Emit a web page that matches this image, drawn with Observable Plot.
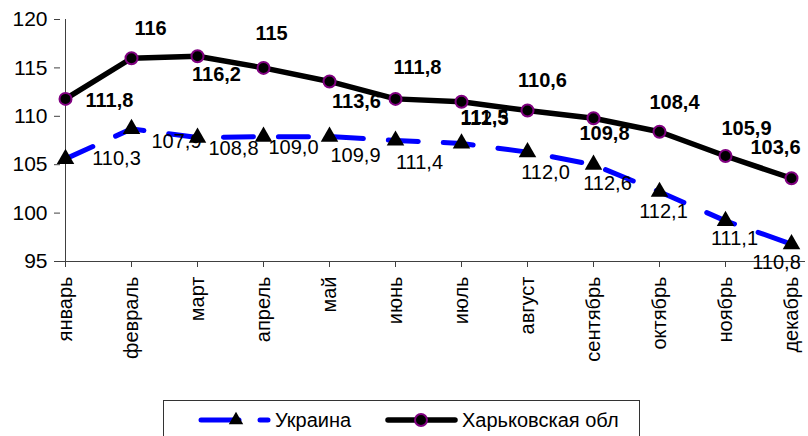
<!DOCTYPE html>
<html>
<head>
<meta charset="utf-8">
<script src="https://cdn.jsdelivr.net/npm/d3@7"></script>
<script src="https://cdn.jsdelivr.net/npm/@observablehq/plot@0.6"></script>
<style>
  html, body { margin: 0; padding: 0; background: white; }
  body { width: 808px; height: 436px; overflow: hidden; position: relative; font-family: "Liberation Sans", Arial, sans-serif; }
  #legend { position: absolute; left: 163px; top: 400px; width: 477px; height: 40px; border: 1px solid #333; box-sizing: border-box; background: white; }
</style>
</head>
<body>
<div id="chart"></div>
<div id="legend"></div>
<script>
const months = ["январь","февраль","март","апрель","май","июнь","июль","август","сентябрь","октябрь","ноябрь","декабрь"];
const ukraine = [105.6, 108.7, 107.8, 107.9, 107.9, 107.5, 107.2, 106.3, 105.0, 102.2, 99.2, 96.8];
const kharkiv = [111.8, 116.0, 116.2, 115.0, 113.6, 111.8, 111.5, 110.6, 109.8, 108.4, 105.9, 103.6];
const ukraineLabels = ["110,3","107,9","108,8","109,0","109,9","111,4","112,3","112,0","112,6","112,1","111,1","110,8"];
const kharkivLabels = ["111,8","116","116,2","115","113,6","111,8","111,5","110,6","109,8","108,4","105,9","103,6"];
const yTicks = [95, 100, 105, 110, 115, 120];
const seriesNames = ["Украина", "Харьковская обл"];

const uRows = months.map((m, i) => ({month: m, value: ukraine[i], label: ukraineLabels[i]}));
const kRows = months.map((m, i) => ({month: m, value: kharkiv[i], label: kharkivLabels[i]}));

// label offsets (layout)
const uDx = [51, 45, 36, 30, 26, 24, 23, 18, 14, 4, 9, -15];
const uDy = [0, 13, 11, 11, 19, 22, -25, 20, 19, 20, 18, 19];
const kDx = [44, 19, 19, 8, 27, 22, 23, 15, 11, 15, 21, -16];
const kDy = [2, -30, 18, -34, 20, -31, 16, -30, 15, -29, -27, -31];

const uLabelMarks = uRows.map((r, i) => Plot.text([r], {x: "month", y: "value", text: "label", dx: uDx[i], dy: uDy[i], fontSize: 20, fill: "black"}));
const kLabelMarks = kRows.map((r, i) => Plot.text([r], {x: "month", y: "value", text: "label", dx: kDx[i], dy: kDy[i], fontSize: 20, fontWeight: "bold", fill: "black"}));

const chart = Plot.plot({
  width: 808,
  height: 395,
  marginLeft: 60,
  marginRight: 13,
  marginTop: 19,
  marginBottom: 134,
  x: {type: "point", domain: months, padding: 0, label: null},
  y: {domain: [95, 120], label: null},
  style: {fontFamily: "Liberation Sans, Arial, sans-serif", fontSize: "20px", color: "black", background: "white", overflow: "visible"},
  marks: [
    Plot.axisY({ticks: yTicks, tickSize: 6, tickPadding: 7, fontSize: 21, stroke: "#404040", label: null}),
    Plot.axisX({tickRotate: -90, tickSize: 6, tickPadding: 9, fontSize: 20, stroke: "#404040", label: null}),
    Plot.ruleX([months[0]], {stroke: "#404040", strokeWidth: 1}),
    Plot.ruleY([95], {stroke: "#404040", strokeWidth: 1, insetRight: -10}),
    Plot.line(uRows, {x: "month", y: "value", stroke: "#0000FF", strokeWidth: 5, strokeDasharray: "30,25", strokeLinecap: "round"}),
    Plot.line(kRows, {x: "month", y: "value", stroke: "black", strokeWidth: 5.5}),
    ...uLabelMarks,
    ...kLabelMarks,
    Plot.dot(uRows, {x: "month", y: "value", symbol: "triangle", r: 6.5, fill: "black", stroke: "none"}),
    Plot.dot(kRows, {x: "month", y: "value", symbol: "circle", r: 6, fill: "black", stroke: "#800080", strokeWidth: 2})
  ]
});
document.getElementById("chart").appendChild(chart);

// legend
const lg = d3.select("#legend").append("svg").attr("width", 477).attr("height", 40).style("display", "block");
const cy = 19;
lg.append("line").attr("x1", 37).attr("x2", 75).attr("y1", cy).attr("y2", cy).attr("stroke", "#0000FF").attr("stroke-width", 5).attr("stroke-linecap", "round");
lg.append("line").attr("x1", 96).attr("x2", 104).attr("y1", cy).attr("y2", cy).attr("stroke", "#0000FF").attr("stroke-width", 5).attr("stroke-linecap", "round");
lg.append("path").attr("d", d3.symbol(d3.symbolTriangle, 90)()).attr("transform", `translate(72,${cy})`).attr("fill", "black");
lg.append("text").attr("x", 111).attr("y", cy).attr("dy", "0.35em").attr("font-size", 20).attr("font-family", "Liberation Sans, Arial, sans-serif").text(seriesNames[0]);
lg.append("line").attr("x1", 224).attr("x2", 291).attr("y1", cy).attr("y2", cy).attr("stroke", "black").attr("stroke-width", 5.5).attr("stroke-linecap", "round");
lg.append("circle").attr("cx", 257).attr("cy", cy).attr("r", 6).attr("fill", "black").attr("stroke", "#800080").attr("stroke-width", 2);
lg.append("text").attr("x", 298).attr("y", cy).attr("dy", "0.35em").attr("font-size", 20).attr("font-family", "Liberation Sans, Arial, sans-serif").text(seriesNames[1]);
</script>
</body>
</html>
